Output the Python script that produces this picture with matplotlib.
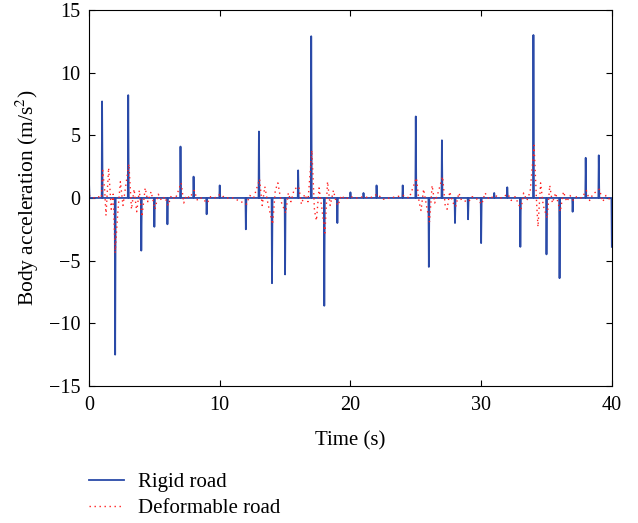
import numpy as np
import matplotlib
matplotlib.use("Agg")
from matplotlib import pyplot as plt

plt.rcParams['font.family'] = ['Liberation Serif', 'DejaVu Serif']
plt.rcParams['mathtext.fontset'] = 'stix'

# Rigid road: impulse times (s) and peak accelerations (m/s^2)
rigid_times = [0, 1, 2, 3, 4, 5, 6, 7, 8, 9, 10, 12, 13, 14, 15, 16, 17, 18, 19,
               20, 21, 22, 24, 25, 26, 27, 28, 29, 30, 31, 32, 33, 34, 35, 36, 37,
               38, 39, 40]
rigid_peaks = [1.3, 7.7, -12.5, 8.2, -4.2, -2.3, -2.1, 4.1, 1.7, -1.3, 1.0, -2.5,
               5.3, -6.8, -6.1, 2.2, 12.9, -8.6, -2.0, 0.45, 0.4, 1.0, 1.0, 6.5,
               -5.5, 4.6, -2.0, -1.7, -3.6, 0.4, 0.85, -3.9, 13.0, -4.5, -6.4,
               -1.1, 3.2, 3.4, -3.9]

# Deformable road: read-off turning points of the dotted trace
deform_t = [0.0, 0.3, 0.7, 0.95, 1.05, 1.2, 1.3, 1.5, 1.7, 1.85, 2.0, 2.2, 2.4,
            2.6, 2.8, 3.05, 3.25, 3.45, 3.65, 3.85, 4.05, 4.3, 4.5, 4.75, 5.05,
            5.3, 5.55, 5.8, 6.05, 6.3, 6.6, 7.05, 7.25, 7.45, 7.7, 8.05, 8.3,
            8.6, 9.05, 9.3, 9.6, 10.05, 10.4, 11.0, 12.05, 12.3, 12.6, 13.05,
            13.25, 13.45, 13.7, 14.05, 14.25, 14.45, 14.7, 15.05, 15.25, 15.45,
            15.7, 16.05, 16.25, 16.5, 16.75, 17.05, 17.25, 17.4, 17.6, 17.8,
            18.05, 18.25, 18.45, 18.7, 18.9, 19.05, 19.3, 19.6, 20.0, 20.5,
            21.0, 21.5, 22.05, 22.5, 23.0, 24.05, 24.5, 25.05, 25.25, 25.4,
            25.6, 25.8, 26.05, 26.25, 26.45, 26.7, 27.05, 27.25, 27.4, 27.6,
            27.8, 28.05, 28.3, 28.5, 29.05, 29.3, 29.6, 30.05, 30.3, 30.6,
            31.05, 31.5, 32.05, 32.3, 32.6, 33.05, 33.25, 33.5, 33.75, 34.05,
            34.25, 34.35, 34.55, 34.75, 35.05, 35.25, 35.45, 35.7, 36.05, 36.3,
            36.55, 36.8, 37.05, 37.3, 37.7, 38.05, 38.3, 38.55, 39.05, 39.3,
            39.55, 40.0]
deform_v = [0.2, 0.0, 0.1, 0.0, 2.2, 0.6, -1.4, 2.4, -0.9, 0.3, -4.4, -1.2, 1.3,
            -0.6, 0.9, 2.7, -0.9, 0.7, -1.1, 0.6, -1.5, 0.8, -0.3, 0.5, -0.9,
            0.3, -0.2, 0.1, -0.6, 0.2, -0.1, 1.2, -0.4, 0.2, 0.0, 0.6, -0.2,
            0.0, -0.4, 0.1, 0.0, 0.3, 0.0, 0.0, -0.5, 0.2, 0.0, 1.5,
            -0.6, 0.9, -0.5, -2.1, 0.6, 1.2, -0.3, -1.2, 0.4, -0.3,
            0.7, 0.9, -0.5, 0.3, -0.3, 3.8, -1.0, -1.8, 0.8, -0.7,
            -2.8, 1.3, -0.6, 0.6, -0.3, -0.6, 0.2, -0.1, 0.1, 0.0,
            0.1, 0.0, 0.3, -0.1, 0.0, 0.2, 0.0, 1.6, -0.3, -1.0,
            0.7, -0.5, -1.9, 1.0, -0.4, 0.4, 1.7, -0.6, -0.9, 0.5,
            -0.3, -0.7, 0.4, -0.2, -0.3, 0.1, 0.0, -0.5, 0.4, -0.1,
            0.2, 0.0, 0.3, -0.2, 0.1, -0.9, 0.4, -0.2, 0.5, 4.2,
            -0.5, -2.3, 1.2, -0.6, -1.6, 1.0, -0.4, 0.4, -1.1, 0.5,
            -0.3, 0.2, -0.2, 0.1, 0.0, 0.6, -0.2, 0.3, 0.7, -0.3,
            0.2, -0.3]

# build the rigid trace as narrow impulses on a zero baseline
rt, rv = [], []
for t, a in zip(rigid_times, rigid_peaks):
    if t > 0:
        rt.append(t - 0.03)
        rv.append(0.0)
    rt.append(t)
    rv.append(a)
    if t < 40:
        rt.append(t + 0.04)
        rv.append(0.0)

fig = plt.figure(figsize=(6.38, 5.23), dpi=100)
ax = fig.add_axes([0.1395, 0.262, 0.8195, 0.719])

ax.plot(rt, rv, color='#2a4aa8', lw=1.3, label='Rigid road')
ax.plot(deform_t, deform_v, color='#ff2020', lw=1.0,
        linestyle=(0, (1, 2.6)), label='Deformable road')

ax.set_xlim(0, 40)
ax.set_ylim(-15, 15)
ax.set_xticks([0, 10, 20, 30, 40])
ax.set_yticks([-15, -10, -5, 0, 5, 10, 15])
ax.set_yticklabels(['\u221215', '\u221210', '\u22125', '0', '5', '10', '15'])
ax.tick_params(direction='in', top=True, right=True, labelsize=14.5, length=4)
ax.tick_params(axis='x', pad=7)
ax.tick_params(axis='y', pad=6)
ax.set_xlabel('Time (s)', fontsize=15, labelpad=12)
ax.set_ylabel('Body acceleration (m/s$^2$)', fontsize=15.5, labelpad=6)

fig.legend(loc='upper left', bbox_to_anchor=(0.110, 0.132), frameon=False,
           fontsize=15, handlelength=1.68, handletextpad=0.67, labelspacing=0.3)

fig.savefig('out.png', dpi=100)
